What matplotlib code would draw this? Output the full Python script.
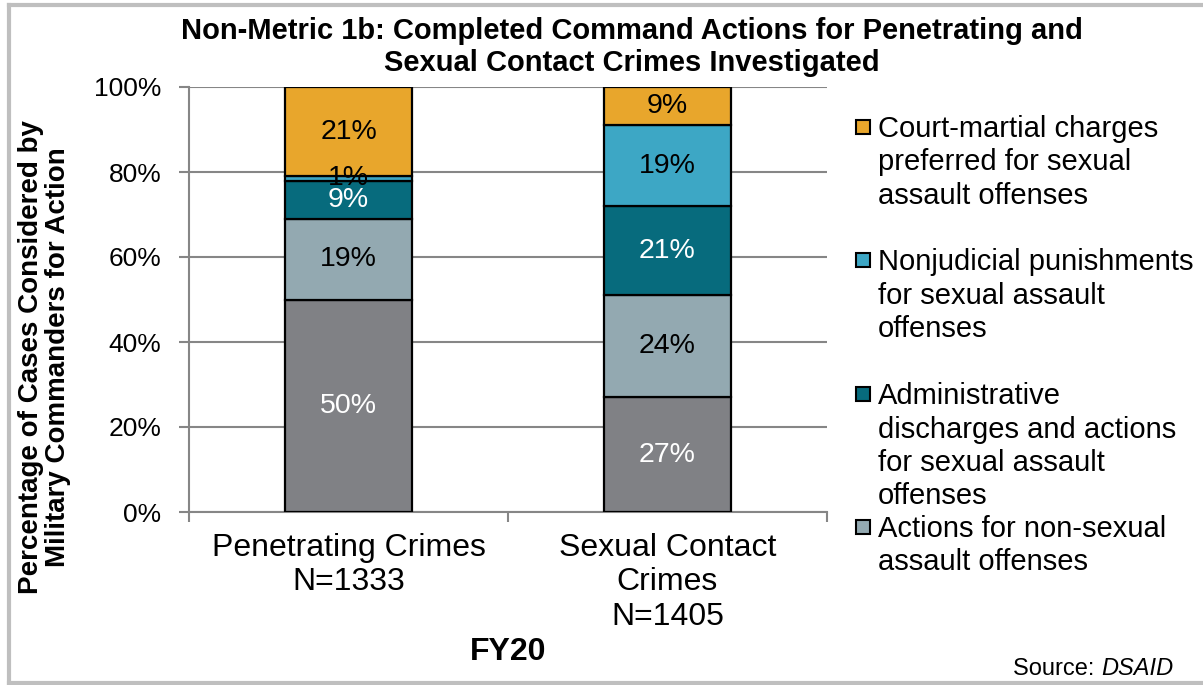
import matplotlib
matplotlib.use("Agg")
import matplotlib.pyplot as plt
from matplotlib.patches import Rectangle
from matplotlib.lines import Line2D

plt.rcParams['font.family'] = ['Liberation Sans', 'DejaVu Sans']

# data, bottom segment first
categories = ["Penetrating Crimes\nN=1333", "Sexual Contact\nCrimes\nN=1405"]
series_names = ["No action",
                "Actions for non-sexual\nassault offenses",
                "Administrative\ndischarges and actions\nfor sexual assault\noffenses",
                "Nonjudicial punishments\nfor sexual assault\noffenses",
                "Court-martial charges\npreferred for sexual\nassault offenses"]
no_action = [50, 27]
non_sexual = [19, 24]
administrative = [9, 21]
nonjudicial = [1, 19]
court_martial = [21, 9]
values = [no_action, non_sexual, administrative, nonjudicial, court_martial]
colors = ["#808185", "#93A9B1", "#076B7D", "#3DA7C5", "#E8A62C"]
label_colors = ["white", "black", "white", "black", "black"]
yticks = [0, 20, 40, 60, 80, 100]

W, H = 1203, 685
fig = plt.figure(figsize=(W / 100, H / 100), dpi=100)
ax = fig.add_axes([189 / W, 1 - 512 / H, (827 - 189) / W, (512 - 87) / H])

x = list(range(len(categories)))
bottom = [0] * len(categories)
for vals, col, lc in zip(values, colors, label_colors):
    bars = ax.bar(x, vals, width=0.40, bottom=bottom, color=col,
                  edgecolor="black", linewidth=1.6, zorder=3)
    texts = ax.bar_label(bars, labels=[f"{v}%" for v in vals], label_type="center",
                         color=lc, fontsize=20.5)
    for t in texts:
        t.set_zorder(6)
    bottom = [b + v for b, v in zip(bottom, vals)]

ax.set_xlim(-0.5, 1.5)
ax.set_ylim(0, 100)
ax.set_yticks(yticks)
ax.set_yticklabels([f"{t}%" for t in yticks], fontsize=19)
ax.yaxis.grid(True, color="#868686", linewidth=1.5, zorder=0)
ax.set_axisbelow(True)
for s in ["top", "right"]:
    ax.spines[s].set_visible(False)
for s in ["left", "bottom"]:
    ax.spines[s].set_color("#868686")
    ax.spines[s].set_linewidth(1.5)
ax.tick_params(axis="y", length=7, width=1.5, color="#868686", pad=13)
ax.set_xticks([-0.5, 0.5, 1.5])
ax.set_xticklabels([])
ax.tick_params(axis="x", length=7, width=1.5, color="#868686")
for xi, cat in zip(x, categories):
    ax.text(xi, -4.9, cat, ha="center", va="top", fontsize=23,
            linespacing=1.2)

fig.text(508 / W, 1 - 652 / H, "FY20", ha="center", va="center",
         fontsize=23, fontweight="bold")
fig.text(632 / W, 1 - 47 / H,
         "Non-Metric 1b: Completed Command Actions for Penetrating and\nSexual Contact Crimes Investigated",
         ha="center", va="center", fontsize=21, fontweight="bold", linespacing=1.15)
fig.text(45 / W, 1 - 357 / H,
         "Percentage of Cases Considered by\nMilitary Commanders for Action",
         ha="center", va="center", rotation=90, fontsize=20,
         fontweight="bold", linespacing=1.05)

# legend drawn by hand, top entry first
leg_tops = [120, 253, 387, 520]
for name, col, top in zip(series_names[:0:-1], colors[:0:-1], leg_tops):
    fig.patches.append(Rectangle((856 / W, 1 - (top + 14) / H), 14 / W, 14 / H,
                                 transform=fig.transFigure, facecolor=col,
                                 edgecolor="black", linewidth=1.5))
    fig.text(878 / W, 1 - (top - 5) / H, name, ha="left", va="top",
             fontsize=21, linespacing=1.25)

fig.text(1101 / W, 1 - 675 / H, "Source: ", ha="right", va="baseline", fontsize=17)
fig.text(1173 / W, 1 - 675 / H, "DSAID", ha="right", va="baseline",
         fontsize=17, style="italic")

# outer frame
for xs, ys in [([9, 9], [5, 683]), ([9, 1203], [5, 5]), ([9, 1203], [683, 683])]:
    fig.lines.append(Line2D([v / W for v in xs], [1 - v / H for v in ys],
                            transform=fig.transFigure, color="#BFBFBF", linewidth=3))

fig.savefig("out.png", dpi=100)
